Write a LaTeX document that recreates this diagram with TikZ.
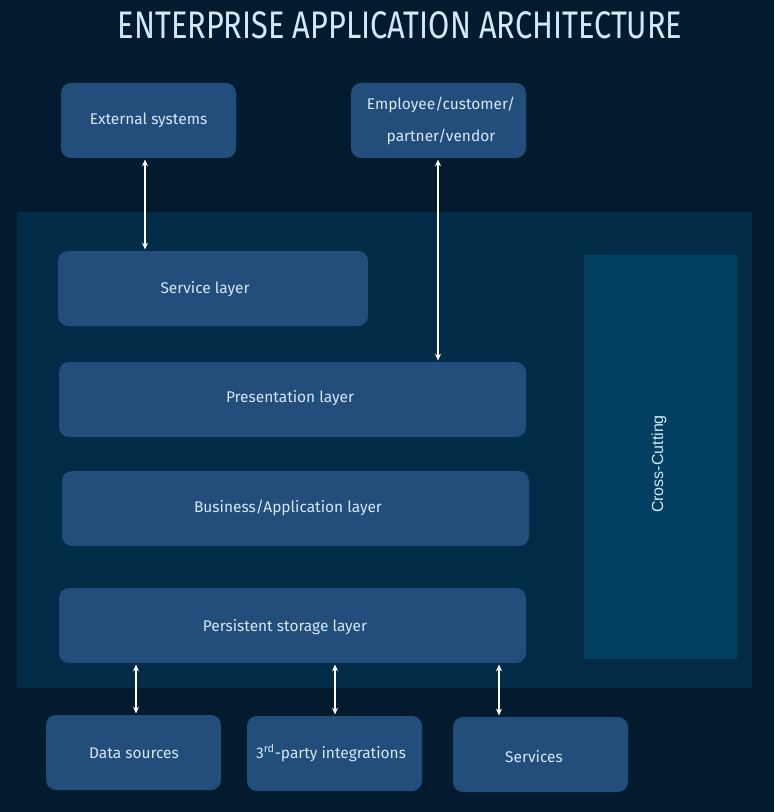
\documentclass[tikz,border=0pt]{standalone}
\usepackage{fontspec}
\setmainfont{Fira Sans}
\newfontfamily\titlefont[FakeStretch=0.8]{Fira Sans}
\newfontfamily\ccfont{Liberation Sans}
\usetikzlibrary{arrows.meta}
\definecolor{bgc}{HTML}{031B2E}
\definecolor{panelc}{HTML}{012B47}
\definecolor{boxc}{HTML}{234D7B}
\definecolor{ccc}{HTML}{023F61}
\definecolor{txtc}{HTML}{D3E9F8}
\tikzset{
  box/.style={fill=boxc, rounded corners=7.5pt, draw=none, text=txtc, font=\fontsize{11.6}{24}\selectfont, align=center, inner sep=0pt},
  lbl/.style={text=txtc, font=\fontsize{11.6}{24}\selectfont, align=center, inner sep=0pt},
  link/.style={draw=white, line width=0.8pt, {Stealth[length=5pt,width=4.5pt]}-{Stealth[length=5pt,width=4.5pt]}, shorten >=1pt, shorten <=1pt}
}
\begin{document}
\begin{tikzpicture}[x=0.75pt,y=-0.75pt]
\fill[bgc] (0,0) rectangle (774,812);
\useasboundingbox (0,0) rectangle (774,812);
\node[text=txtc, font=\titlefont\fontsize{28.8}{30}\selectfont] (title) at (400,25) {ENTERPRISE APPLICATION ARCHITECTURE};
\node[fill=panelc, minimum width={735*0.75pt}, minimum height={476*0.75pt}, inner sep=0pt] (panel) at (384.5,450) {};
\node[fill=ccc, minimum width={153*0.75pt}, minimum height={404*0.75pt}, inner sep=0pt] (cc) at (660.5,457) {};
\node[text=txtc, rotate=90, font=\ccfont\fontsize{12}{14}\selectfont] (cclabel) at (659,464) {Cross-Cutting};
\node[box, minimum width={175*0.75pt}, minimum height={75*0.75pt}] (ext) at (148.5,120.5) {};
\node[lbl] (extl) at (148.5,120) {External systems};
\node[box, minimum width={175*0.75pt}, minimum height={75*0.75pt}] (emp) at (438.5,120.5) {};
\node[lbl] (empl) at (441,120.5) {Employee/customer/\\partner/vendor};
\node[box, minimum width={310*0.75pt}, minimum height={75*0.75pt}] (svc) at (213,288.5) {};
\node[lbl] (svcl) at (205,289) {Service layer};
\node[box, minimum width={467*0.75pt}, minimum height={75*0.75pt}] (pres) at (292.5,399.5) {};
\node[lbl] (presl) at (290,398) {Presentation layer};
\node[box, minimum width={467*0.75pt}, minimum height={75*0.75pt}] (bus) at (295.5,508.5) {};
\node[lbl] (busl) at (288,508) {Business/Application layer};
\node[box, minimum width={467*0.75pt}, minimum height={75*0.75pt}] (pers) at (292.5,625.5) {};
\node[lbl] (persl) at (285,627) {Persistent storage layer};
\node[box, minimum width={175*0.75pt}, minimum height={75*0.75pt}] (ds) at (133.5,752.5) {};
\node[lbl] (dsl) at (134,753) {Data sources};
\node[box, minimum width={175*0.75pt}, minimum height={75*0.75pt}] (tp) at (334.5,753.5) {};
\node[lbl] (tpl) at (331,753) {3\textsuperscript{rd}-party integrations};
\node[box, minimum width={175*0.75pt}, minimum height={75*0.75pt}] (srv) at (540.5,754.5) {};
\node[lbl] (srvl) at (534,757) {Services};
\draw[link] (ext.south -| 145,0) -- (svc.north -| 145,0);
\draw[link] (emp.south -| 438,0) -- (pres.north -| 438,0);
\draw[link] (pers.south -| 136,0) -- (ds.north -| 136,0);
\draw[link] (pers.south -| 335,0) -- (tp.north -| 335,0);
\draw[link] (pers.south -| 499,0) -- (srv.north -| 499,0);
\end{tikzpicture}
\end{document}
